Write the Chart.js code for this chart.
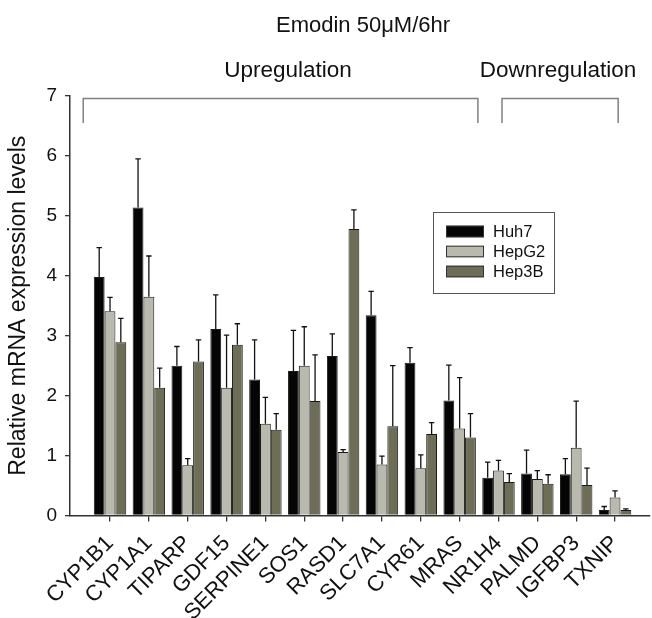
<!DOCTYPE html>
<html>
<head>
<meta charset="utf-8">
<script src="https://cdn.jsdelivr.net/npm/chart.js@4.4.1/dist/chart.umd.min.js"></script>
<style>
	html, body { margin: 0; padding: 0; background: #fff; }
	#wrap { width: 652px; height: 618px; }
</style>
</head>
<body>
<div id="wrap"><canvas id="emodinChart" width="652" height="618"></canvas></div>
<script>
const genes = ["CYP1B1", "CYP1A1", "TIPARP", "GDF15", "SERPINE1", "SOS1", "RASD1",
	"SLC7A1", "CYR61", "MRAS", "NR1H4", "PALMD", "IGFBP3", "TXNIP"];
const huh7 = [3.98, 5.14, 2.50, 3.11, 2.27, 2.41, 2.66, 3.34, 2.55, 1.92, 0.63, 0.70, 0.69, 0.09];
const huh7Err = [0.49, 0.81, 0.32, 0.57, 0.66, 0.68, 0.37, 0.40, 0.25, 0.59, 0.26, 0.39, 0.26, 0.06];
const hepG2 = [3.41, 3.65, 0.84, 2.13, 1.53, 2.50, 1.06, 0.85, 0.79, 1.45, 0.75, 0.61, 1.13, 0.30];
const hepG2Err = [0.23, 0.68, 0.11, 0.88, 0.44, 0.65, 0.04, 0.14, 0.22, 0.85, 0.17, 0.14, 0.78, 0.11];
const hep3B = [2.89, 2.13, 2.57, 2.85, 1.43, 1.91, 4.78, 1.49, 1.36, 1.30, 0.56, 0.53, 0.51, 0.09];
const hep3BErr = [0.40, 0.33, 0.36, 0.35, 0.27, 0.77, 0.32, 1.01, 0.19, 0.40, 0.14, 0.15, 0.28, 0.02];
const yTicks = [0, 1, 2, 3, 4, 5, 6, 7];

const FONT = "'Liberation Sans', Arial, Helvetica, sans-serif";

const toPoints = (values) => values.map((v, i) => ({ x: i, y: v }));

// brackets over the gene groups, in x-index units
const groups = [
	{ label: "Upregulation", from: -0.69, to: 9.47, textX: 288 },
	{ label: "Downregulation", from: 10.09, to: 13.08, textX: 558 },
];

const errorBars = {
	id: "errorBars",
	afterDatasetsDraw(chart) {
		const { ctx } = chart;
		const y = chart.scales.y;
		ctx.save();
		ctx.strokeStyle = "#111";
		ctx.lineWidth = 1.3;
		chart.data.datasets.forEach((ds, i) => {
			chart.getDatasetMeta(i).data.forEach((bar, j) => {
				const top = y.getPixelForValue(ds.data[j].y + ds.errors[j]);
				ctx.beginPath();
				ctx.moveTo(bar.x, bar.y);
				ctx.lineTo(bar.x, top);
				ctx.moveTo(bar.x - 2.7, top);
				ctx.lineTo(bar.x + 2.7, top);
				ctx.stroke();
			});
		});
		ctx.restore();
	},
};

const annotations = {
	id: "annotations",
	afterDraw(chart) {
		const { ctx } = chart;
		const x = chart.scales.x, y = chart.scales.y;
		ctx.save();
		ctx.fillStyle = "#111";
		ctx.textAlign = "center";
		ctx.textBaseline = "alphabetic";
		ctx.font = `22px ${FONT}`;
		ctx.fillText("Emodin 50\u03BCM/6hr", 363, 32);

		ctx.font = `22.5px ${FONT}`;
		ctx.strokeStyle = "#808080";
		ctx.lineWidth = 1.5;
		const yTop = y.getPixelForValue(6.96), yEnd = y.getPixelForValue(6.55);
		groups.forEach((g) => {
			ctx.fillText(g.label, g.textX, 77);
			const x0 = x.getPixelForValue(g.from), x1 = x.getPixelForValue(g.to);
			ctx.beginPath();
			ctx.moveTo(x0, yEnd);
			ctx.lineTo(x0, yTop);
			ctx.lineTo(x1, yTop);
			ctx.lineTo(x1, yEnd);
			ctx.stroke();
		});

		// legend box
		ctx.strokeStyle = "#555";
		ctx.lineWidth = 1;
		ctx.strokeRect(433.5, 212.5, 121, 81);
		ctx.font = `16.5px ${FONT}`;
		ctx.textAlign = "left";
		ctx.textBaseline = "middle";
		chart.data.datasets.forEach((ds, i) => {
			const top = 225.7 + i * 20;
			ctx.fillStyle = ds.backgroundColor;
			ctx.fillRect(446, top, 38, 11.6);
			ctx.strokeStyle = "#333";
			ctx.strokeRect(446.5, top + 0.5, 37, 10.6);
			ctx.fillStyle = "#111";
			ctx.fillText(ds.label, 493, top + 6.5);
		});
		ctx.restore();
	},
};

const axisColor = "#333";

new Chart("emodinChart", {
	type: "bar",
	data: {
		datasets: [
			{ label: "Huh7", data: toPoints(huh7), errors: huh7Err, backgroundColor: "#050505" },
			{ label: "HepG2", data: toPoints(hepG2), errors: hepG2Err, backgroundColor: "#b9baad" },
			{ label: "Hep3B", data: toPoints(hep3B), errors: hep3BErr, backgroundColor: "#6e6e57" },
		].map((ds) => Object.assign(ds, {
			borderColor: "#1a1a1a",
			borderWidth: 1,
			categoryPercentage: 0.835,
			barPercentage: 1,
		})),
	},
	options: {
		responsive: false,
		animation: false,
		layout: { padding: { top: 96, right: 2, left: 0, bottom: 0 } },
		plugins: {
			legend: { display: false },
			tooltip: { enabled: false },
		},
		scales: {
			x: {
				type: "linear",
				min: -1.03,
				max: 13.9,
				offset: false,
				afterBuildTicks: (s) => { s.ticks = genes.map((g, i) => ({ value: i })); },
				afterFit: (s) => { s.height = 102.5; s.paddingLeft = 0; s.paddingRight = 0; },
				grid: { offset: false, drawOnChartArea: false, drawTicks: true, tickLength: 6, color: axisColor, lineWidth: 1.3 },
				border: { color: axisColor, width: 1.5 },
				ticks: {
					autoSkip: false,
					minRotation: 45,
					maxRotation: 45,
					padding: 9,
					color: "#111",
					font: { family: FONT, size: 22 },
					callback: (v) => genes[v] ?? "",
				},
			},
			y: {
				min: 0,
				max: 7,
				afterBuildTicks: (s) => { s.ticks = yTicks.map((v) => ({ value: v })); },
				afterFit: (s) => { s.width = 70; },
				grid: { drawOnChartArea: false, drawTicks: true, tickLength: 5, color: axisColor, lineWidth: 1.3 },
				border: { color: axisColor, width: 1.5 },
				ticks: { padding: 8, color: "#111", font: { family: FONT, size: 19 } },
				title: {
					display: true,
					text: "Relative mRNA expression levels",
					color: "#111",
					font: { family: FONT, size: 23 },
					padding: { top: 5, bottom: 0 },
				},
			},
		},
	},
	plugins: [errorBars, annotations],
});
</script>
</body>
</html>
